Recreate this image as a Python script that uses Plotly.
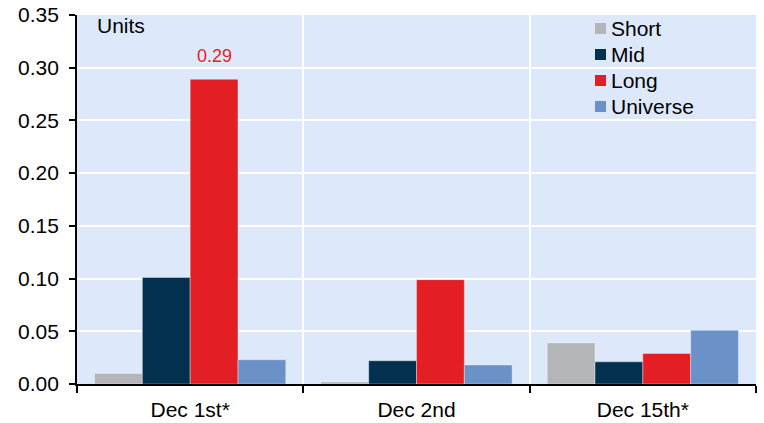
import plotly.graph_objects as go

categories = ["Dec 1st*", "Dec 2nd", "Dec 15th*"]
short_vals = [0.010, 0.002, 0.039]
mid_vals = [0.101, 0.022, 0.021]
long_vals = [0.289, 0.099, 0.029]
universe_vals = [0.023, 0.018, 0.051]

series_names = ["Short", "Mid", "Long", "Universe"]
series_values = [short_vals, mid_vals, long_vals, universe_vals]
series_colors = ["#b4b5b8", "#03304f", "#e31e24", "#6a92c9"]

FONT_FAMILY = "Liberation Sans, Arial, sans-serif"
font = dict(family=FONT_FAMILY, size=21, color="#000000")

fig = go.Figure()
for name, vals, color in zip(series_names, series_values, series_colors):
    fig.add_trace(go.Bar(
        x=categories, y=vals, name=name, showlegend=False,
        marker=dict(color=color, line=dict(color="rgba(255,255,255,0.6)", width=0.6)),
    ))

# Plot area geometry (pixels) used to place the hand-built legend
L, R, T, B = 77, 756, 15, 384
W, H = R - L, B - T

def px_x(p):
    return (p - L) / W

def px_y(p):
    return (B - p) / H

shapes = []
annotations = []
for i, (name, color) in enumerate(zip(series_names, series_colors)):
    cy = 28.5 + 26 * i
    shapes.append(dict(
        type="rect", xref="paper", yref="paper",
        x0=px_x(595), x1=px_x(606), y0=px_y(cy + 5.5), y1=px_y(cy - 5.5),
        fillcolor=color, line=dict(width=0),
    ))
    annotations.append(dict(
        text=name, xref="paper", yref="paper", x=px_x(609), y=px_y(cy),
        xanchor="left", yanchor="middle", showarrow=False, font=font,
    ))

annotations.append(dict(
    text="Units", xref="paper", yref="paper", x=px_x(95), y=px_y(25.5),
    xanchor="left", yanchor="middle", showarrow=False, font=font,
))
annotations.append(dict(
    text=f"{long_vals[0]:.2f}", x=categories[0], y=long_vals[0],
    xshift=24, yshift=11, yanchor="bottom", showarrow=False,
    font=dict(family=FONT_FAMILY, size=18, color="#e31e24"),
))

fig.update_layout(
    width=764, height=423,
    margin=dict(l=L, r=764 - R, t=T, b=423 - B),
    paper_bgcolor="white",
    plot_bgcolor="#dde9fa",
    barmode="group",
    bargap=0.155,
    bargroupgap=0,
    font=font,
    showlegend=False,
    xaxis=dict(
        type="category", tickson="boundaries", automargin=False,
        showgrid=True, gridcolor="white", gridwidth=2,
        showline=True, linecolor="black", linewidth=1.8,
        ticks="outside", ticklen=7, tickcolor="black", tickwidth=1.8,
        tickfont=font, ticklabelstandoff=6,
    ),
    yaxis=dict(
        range=[0, 0.35], dtick=0.05, tickformat=".2f", automargin=False,
        showgrid=True, gridcolor="white", gridwidth=2,
        showline=True, linecolor="black", linewidth=1.8,
        ticks="outside", ticklen=6, tickcolor="black", tickwidth=1.8,
        tickfont=font, zeroline=False, ticklabelstandoff=6,
    ),
    shapes=shapes,
    annotations=annotations,
)

fig.write_html("out.html")
